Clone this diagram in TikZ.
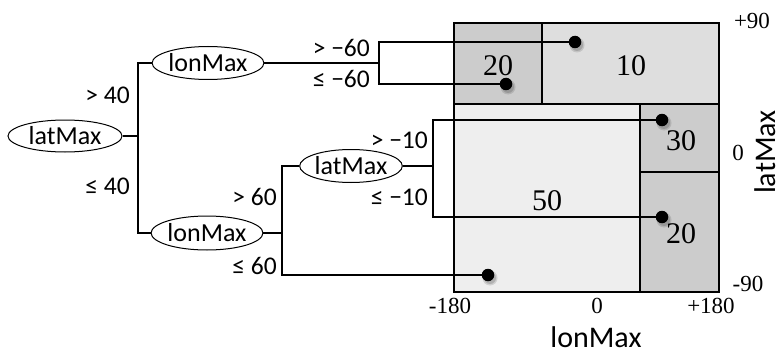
\documentclass[tikz,border=0pt]{standalone}
\usepackage{fontspec}
\setmainfont{Liberation Serif}
\newfontfamily\calfont{Carlito}
\usetikzlibrary{shapes.geometric}
\definecolor{cellDark}{HTML}{CCCCCC}
\definecolor{cellMid}{HTML}{DEDEDE}
\definecolor{cellLight}{HTML}{EEEEEE}
\tikzset{
  treenode/.style={ellipse, draw, line width=1pt, inner sep=0pt, font=\calfont\fontsize{26}{26}\selectfont},
  branch/.style={line width=1.5pt},
  cond/.style={anchor=east, inner sep=0pt, font=\calfont\fontsize{25.5}{25.5}\selectfont},
  cellnum/.style={inner sep=0pt, font=\fontsize{30}{30}\selectfont},
  axisnum/.style={inner sep=0pt, font=\fontsize{23}{23}\selectfont},
  axislabel/.style={inner sep=0pt, font=\calfont\fontsize{30}{30}\selectfont},
  dot/.style={circle, fill=black, inner sep=0pt, minimum size=12.5pt},
  border/.style={line width=2pt}
}
\begin{document}
\begin{tikzpicture}[x=1pt,y=-1pt]
\useasboundingbox (0,0) rectangle (782,353);
% cells
\fill[cellDark] (454,23) rectangle (542,104);
\fill[cellMid] (542,23) rectangle (719,104);
\fill[cellLight] (454,104) rectangle (640,292);
\fill[cellDark] (640,104) rectangle (719,292);
\draw[border] (454,23) rectangle (719,292);
\draw[border] (454,104) -- (719,104);
\draw[border] (542,23) -- (542,104);
\draw[border] (640,104) -- (640,292);
\draw[border] (640,172) -- (719,172);
% cell numbers
\node[cellnum] (n20a) at (498,66) {20};
\node[cellnum] (n10) at (631,66) {10};
\node[cellnum] (n30) at (681,141) {30};
\node[cellnum] (n50) at (547,201) {50};
\node[cellnum] (n20b) at (681,234) {20};
% axis
\node[axisnum] (p90) at (752,21) {+90};
\node[axisnum] (z90) at (738,153) {0};
\node[axisnum] (m90) at (748,284) {-90};
\node[axisnum] (m180) at (450,306) {-180};
\node[axisnum] (z180) at (597,306) {0};
\node[axisnum] (p180) at (711,306) {+180};
\node[axislabel, anchor=base] (xl) at (596,347) {lonMax};
\node[axislabel, rotate=90] (yl) at (765,152) {latMax};
% tree nodes
\node[treenode, minimum width=114pt, minimum height=32pt] (root) at (65,136) {latMax};
\node[treenode, minimum width=103pt, minimum height=33pt] (lon1) at (208,63) {lonMax};
\node[treenode, minimum width=102pt, minimum height=34pt] (lon2) at (207,233) {lonMax};
\node[treenode, minimum width=94pt, minimum height=33pt] (lat2) at (351,166) {latMax};
% junctions
\coordinate (j1) at (138,136);
\coordinate (j2) at (379,63);
\coordinate (j3) at (282,233);
\coordinate (j4) at (433,166);
% dot shadows
\foreach \px/\py in {575/42, 506/84, 662/120, 662/217, 488/275}{
  \fill[black, opacity=0.12] (\px+2,\py+3) circle (7.5pt);
  \fill[black, opacity=0.15] (\px+2,\py+3) circle (6pt);
}
% branches
\draw[branch] (root.east) -- (j1);
\draw[branch] (lon1.west) -| (j1);
\draw[branch] (lon2.west) -| (j1);
\draw[branch] (lon1.east) -- (j2);
\draw[branch] (lon2.east) -- (j3);
\draw[branch] (lat2.west) -| (j3);
\draw[branch] (lat2.east) -- (j4);
\node[dot] (d10) at (575,42) {};
\node[dot] (d20a) at (506,84) {};
\node[dot] (d30) at (662,120) {};
\node[dot] (d20b) at (662,217) {};
\node[dot] (d50) at (488,275) {};
\draw[branch] (j2) |- (d10);
\draw[branch] (j2) |- (d20a);
\draw[branch] (j4) |- (d30);
\draw[branch] (j4) |- (d20b);
\draw[branch] (j3) |- (d50);
% conditions
\node[cond] (c1) at (130,95) {> 40};
\node[cond] (c2) at (130,186) {≤ 40};
\node[cond] (c3) at (277,197) {> 60};
\node[cond] (c4) at (277,266) {≤ 60};
\node[cond] (c5) at (370,48) {> −60};
\node[cond] (c6) at (370,79) {≤ −60};
\node[cond] (c7) at (428,140) {> −10};
\node[cond] (c8) at (428,197) {≤ −10};
\end{tikzpicture}
\end{document}
